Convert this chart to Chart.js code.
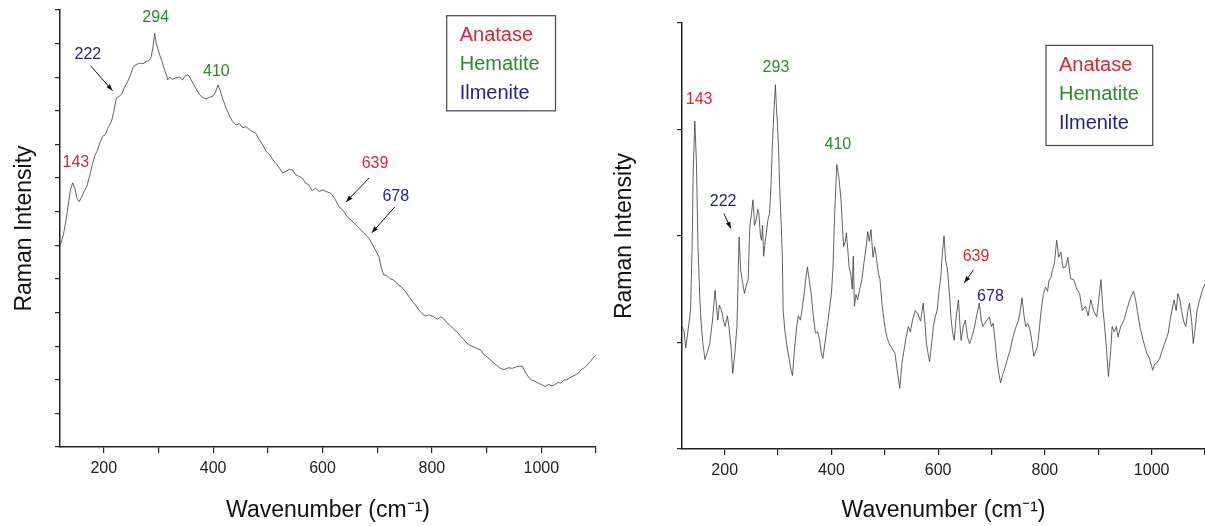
<!DOCTYPE html>
<html>
<head>
<meta charset="utf-8">
<script src="https://cdn.jsdelivr.net/npm/chart.js@4.4.1/dist/chart.umd.min.js"></script>
<style>
  html, body { margin: 0; padding: 0; background: #fff; overflow: hidden; width: 1205px; height: 526px; }
  canvas { position: absolute; top: 0; }
  #left { left: 0; }
  #right { left: 600px; }
</style>
</head>
<body>
<canvas id="left" width="602" height="526"></canvas>
<canvas id="right" width="611" height="526"></canvas>
<script>
// spectrum 1 (left panel) - wavenumber / intensity (arb. units)
const waveA = [120,126,131,135,139,143,147,151,155,159,164,169,174,179,184,188,193,198,203,208,214,218,223,228,233,238,243,248,254,260,266,272,278,283,287,290,293,296,299,302,306,311,314,317,321,326,332,339,344,349,354,358,363,369,375,381,387,393,399,404,409,413,416,422,429,435,442,448,454,460,466,472,478,484,490,497,503,509,515,521,527,533,539,545,551,557,563,569,575,581,587,594,600,607,615,622,630,637,645,652,658,664,671,678,685,692,697,703,708,712,718,724,730,737,745,752,759,766,773,781,788,795,803,810,816,821,827,833,840,846,852,858,863,868,875,882,889,895,901,907,913,919,925,932,940,947,953,960,965,970,976,982,989,995,1001,1007,1013,1019,1025,1030,1036,1041,1047,1052,1057,1062,1068,1073,1079,1084,1090,1097,1100];
const intA = [5.98,6.3,6.75,7.2,7.65,7.86,7.7,7.4,7.3,7.42,7.6,7.75,8.05,8.4,8.69,8.8,9.05,9.24,9.3,9.5,9.68,9.95,10.38,10.43,10.5,10.7,10.85,11.02,11.32,11.38,11.42,11.4,11.47,11.5,11.62,11.9,12.31,12.0,11.85,11.67,11.5,11.22,11.1,10.92,11.0,10.94,10.98,11.0,10.92,11.04,11.07,10.98,10.82,10.65,10.48,10.4,10.35,10.4,10.43,10.55,10.77,10.6,10.43,10.15,9.88,9.7,9.58,9.62,9.5,9.53,9.45,9.38,9.33,9.15,9.0,8.79,8.7,8.55,8.44,8.3,8.15,8.2,8.26,8.24,8.1,8.05,8.0,7.85,7.8,7.62,7.7,7.6,7.65,7.6,7.55,7.4,7.15,7.05,6.85,6.75,6.66,6.56,6.45,6.32,6.21,6.0,5.85,5.66,5.3,5.12,5.1,5.0,4.97,4.85,4.75,4.62,4.45,4.3,4.15,3.98,3.9,3.93,3.88,3.8,3.87,3.83,3.7,3.62,3.5,3.43,3.3,3.2,3.1,3.04,2.98,2.93,2.89,2.75,2.68,2.59,2.5,2.42,2.34,2.3,2.36,2.34,2.38,2.4,2.41,2.25,2.09,2.0,1.95,1.9,1.85,1.8,1.86,1.82,1.85,1.92,1.9,1.99,2.0,2.06,2.1,2.14,2.2,2.3,2.36,2.44,2.55,2.69,2.72];

// spectrum 2 (right panel)
const waveB = [120,124,127,131,136,139,141,144,147,150,153,155.5,159,163,167,172,177,182,187,190,194,198,201,205,208,212,215,219,223,227,230,234,237,241,244,247,250,253,256,259,262,264,267,269,271,273,276,278,281,284,287,289,292,295,297,299,301,303,306,308,309.5,313,317,320,324,327,331,335,338,342,346,349,352,355,358,362,366,370,374,378,381,384,388,392,396,400,403,406,410,414,418,421,423,426,428,431,433,436,439,441,443,446,449,453,457,461,465,468,471,474,478,481,485,488,491,495,500,504,508,513,519,523,528,532,537,540,544,548,552,557,562,567,572,575,578,581,584,588,591,595,598,602,605,608,611,614,617,619,622,624,627,630,634,638,641,643,647,651,655,659,663,667,672,677,681,684,690,696,700,703,707,710,714,717,721,724,730,735,740,746,750,754,757,761,764,768,772,776,779,783,786,790,793,797,801,805,808,811,814,818,822,826,830,834,839,843,848,854,860,865,870,876,881,886,891,897,901,905,909,912,916,919,923,926,930,934,937,942,948,953,959,963,966,970,973,978,984,988,991,996,1002,1006,1010,1015,1020,1025,1031,1036,1042,1046,1049,1053,1056,1060,1064,1068,1071,1075,1078,1082,1085,1090,1095,1100];
const intB = [1.15,1.1,0.95,1.1,1.3,1.9,2.6,3.08,2.7,1.9,1.46,1.21,1.0,0.84,0.9,0.99,1.2,1.49,1.21,1.35,1.3,1.2,1.15,1.25,1.15,0.95,0.71,0.9,1.15,1.99,1.68,1.55,1.46,1.55,1.59,2.09,2.2,2.34,2.1,2.15,2.25,2.21,2.0,1.96,2.1,1.81,1.95,2.03,2.15,2.21,2.5,2.81,3.15,3.42,3.2,3.04,2.8,2.46,2.1,1.81,1.3,1.1,0.95,0.87,0.75,0.69,0.95,1.15,1.25,1.21,1.35,1.46,1.6,1.71,1.6,1.46,1.25,1.09,1.1,1.02,0.9,0.85,1.0,1.15,1.3,1.46,1.71,2.2,2.67,2.55,2.34,2.05,1.9,1.95,2.03,1.85,1.71,1.65,1.5,1.81,1.34,1.45,1.4,1.5,1.59,1.75,1.9,2.04,1.95,2.06,1.8,1.9,1.77,1.65,1.59,1.35,1.15,1.05,0.99,0.95,0.9,0.75,0.57,0.8,0.96,1.05,1.15,1.1,1.21,1.3,1.27,1.2,1.37,1.2,0.99,0.9,0.82,1.0,1.15,1.25,1.3,1.5,1.62,1.85,2.0,1.77,1.7,1.59,1.4,1.23,1.1,1.02,1.25,1.4,1.15,1.02,1.15,1.21,1.05,0.99,1.05,1.12,1.25,1.37,1.2,1.15,1.2,1.24,1.15,1.18,1.0,0.84,0.7,0.62,0.7,0.74,0.85,0.93,1.05,1.15,1.2,1.3,1.42,1.25,1.15,1.18,1.12,1.0,0.87,0.92,0.96,1.15,1.3,1.45,1.52,1.48,1.59,1.6,1.68,1.75,1.96,1.8,1.85,1.7,1.71,1.8,1.6,1.59,1.5,1.46,1.3,1.34,1.25,1.4,1.3,1.24,1.4,1.59,1.3,1.15,0.9,0.68,0.9,1.15,1.1,1.15,1.05,1.15,1.21,1.3,1.4,1.45,1.48,1.4,1.3,1.15,1.02,0.95,0.9,0.85,0.74,0.8,0.81,0.85,0.93,1.0,1.09,1.25,1.4,1.3,1.46,1.4,1.3,1.2,1.15,1.3,1.37,1.2,0.99,1.15,1.3,1.4,1.49,1.55];

const xTicks = [200, 400, 600, 800, 1000];
const phases = ['Anatase', 'Hematite', 'Ilmenite'];
const phaseColors = { Anatase: '#d22a30', Hematite: '#2b8a2b', Ilmenite: '#23238c' };

// peak labels: text, phase, label position (wavenumber, intensity), optional arrow
const peaksA = [
  { t: '143', p: 'Anatase', x: 149, y: 8.45 },
  { t: '222', p: 'Ilmenite', x: 171, y: 11.67, arrow: [176, 11.34, 216, 10.6] },
  { t: '294', p: 'Hematite', x: 295, y: 12.77 },
  { t: '410', p: 'Hematite', x: 406, y: 11.16 },
  { t: '639', p: 'Anatase', x: 696, y: 8.42, arrow: [685, 8.0, 643, 7.29] },
  { t: '678', p: 'Ilmenite', x: 734, y: 7.44, arrow: [732, 7.14, 690, 6.37] }
];
const peaksB = [
  { t: '143', p: 'Anatase', x: 152, y: 3.28 },
  { t: '222', p: 'Ilmenite', x: 197, y: 2.32, arrow: [198.5, 2.21, 211.6, 2.07] },
  { t: '293', p: 'Hematite', x: 296, y: 3.58 },
  { t: '410', p: 'Hematite', x: 412, y: 2.86 },
  { t: '639', p: 'Anatase', x: 671, y: 1.81, arrow: [666, 1.68, 649, 1.56] },
  { t: '678', p: 'Ilmenite', x: 698, y: 1.43 }
];

const FONT = "'Liberation Sans', Arial, sans-serif";

const notes = {
  id: 'notes',
  afterDraw(chart, args, opts) {
    const { ctx, scales: { x, y } } = chart;
    ctx.save();
    ctx.font = '16px ' + FONT;
    ctx.textAlign = 'center';
    ctx.textBaseline = 'middle';
    opts.peaks.forEach(pk => {
      ctx.fillStyle = phaseColors[pk.p];
      ctx.fillText(pk.t, x.getPixelForValue(pk.x), y.getPixelForValue(pk.y));
      if (pk.arrow) {
        const x1 = x.getPixelForValue(pk.arrow[0]), y1 = y.getPixelForValue(pk.arrow[1]);
        const x2 = x.getPixelForValue(pk.arrow[2]), y2 = y.getPixelForValue(pk.arrow[3]);
        const a = Math.atan2(y2 - y1, x2 - x1);
        ctx.strokeStyle = '#111';
        ctx.fillStyle = '#111';
        ctx.lineWidth = 1;
        ctx.beginPath();
        ctx.moveTo(x1, y1);
        ctx.lineTo(x2, y2);
        ctx.stroke();
        ctx.beginPath();
        ctx.moveTo(x2, y2);
        ctx.lineTo(x2 - 7 * Math.cos(a - 0.35), y2 - 7 * Math.sin(a - 0.35));
        ctx.lineTo(x2 - 7 * Math.cos(a + 0.35), y2 - 7 * Math.sin(a + 0.35));
        ctx.closePath();
        ctx.fill();
      }
    });
    // phase key box
    const b = opts.box;
    const bx1 = x.getPixelForValue(b[0]), by1 = y.getPixelForValue(b[1]);
    const bx2 = x.getPixelForValue(b[2]), by2 = y.getPixelForValue(b[3]);
    ctx.strokeStyle = '#444';
    ctx.lineWidth = 1.2;
    ctx.strokeRect(bx1, by1, bx2 - bx1, by2 - by1);
    ctx.font = '20px ' + FONT;
    ctx.textAlign = 'left';
    phases.forEach((ph, i) => {
      ctx.fillStyle = phaseColors[ph];
      ctx.fillText(ph, bx1 + 13, by1 + 20 + i * 29);
    });
    ctx.restore();
  }
};

function makeChart(id, waves, ints, yMax, yWidth, xHeight, padTop, peaks, box) {
  return new Chart(document.getElementById(id), {
    type: 'line',
    data: {
      datasets: [{
        data: waves.map((w, i) => ({ x: w, y: ints[i] })),
        borderColor: '#3a3a3a',
        borderWidth: 0.8,
        pointRadius: 0,
        tension: 0
      }]
    },
    options: {
      responsive: false,
      animation: false,
      layout: { padding: { top: padTop, right: 5, left: 0, bottom: 0 } },
      plugins: {
        legend: { display: false },
        tooltip: { enabled: false },
        notes: { peaks, box }
      },
      scales: {
        x: {
          type: 'linear',
          min: 120,
          max: 1100,
          afterFit: s => { s.height = xHeight; },
          border: { display: true, color: '#222', width: 1.5 },
          grid: { display: true, drawOnChartArea: false, drawTicks: true, tickLength: 6, color: '#222', lineWidth: 1.2 },
          ticks: {
            stepSize: 100,
            includeBounds: false,
            autoSkip: false,
            maxRotation: 0,
            padding: 6,
            color: '#222',
            font: { family: FONT, size: 16 },
            callback: v => xTicks.includes(v) ? String(v) : ''
          },
          title: {
            display: true,
            text: 'Wavenumber (cm\u207B\u00B9)',
            color: '#111',
            font: { family: FONT, size: 23, lineHeight: 1.2 },
            padding: { top: 0, bottom: 2 }
          }
        },
        y: {
          type: 'linear',
          min: 0,
          max: yMax,
          afterFit: s => { s.width = yWidth; },
          border: { display: true, color: '#222', width: 1.5 },
          grid: { display: true, drawOnChartArea: false, drawTicks: true, tickLength: 5, color: '#222', lineWidth: 1.2 },
          ticks: { display: false, stepSize: 1, maxTicksLimit: 20 },
          title: {
            display: true,
            text: 'Raman Intensity',
            color: '#111',
            font: { family: FONT, size: 23, lineHeight: 1.2 },
            padding: { top: 11, bottom: 0 }
          }
        }
      }
    },
    plugins: [notes]
  });
}

makeChart('left', waveA, intA, 13, 60, 79, 10, peaksA, [827, 12.83, 1026, 10.0]);
makeChart('right', waveB, intB, 4, 82, 77, 23, peaksB, [802, 3.79, 1002, 2.85]);
</script>
</body>
</html>
